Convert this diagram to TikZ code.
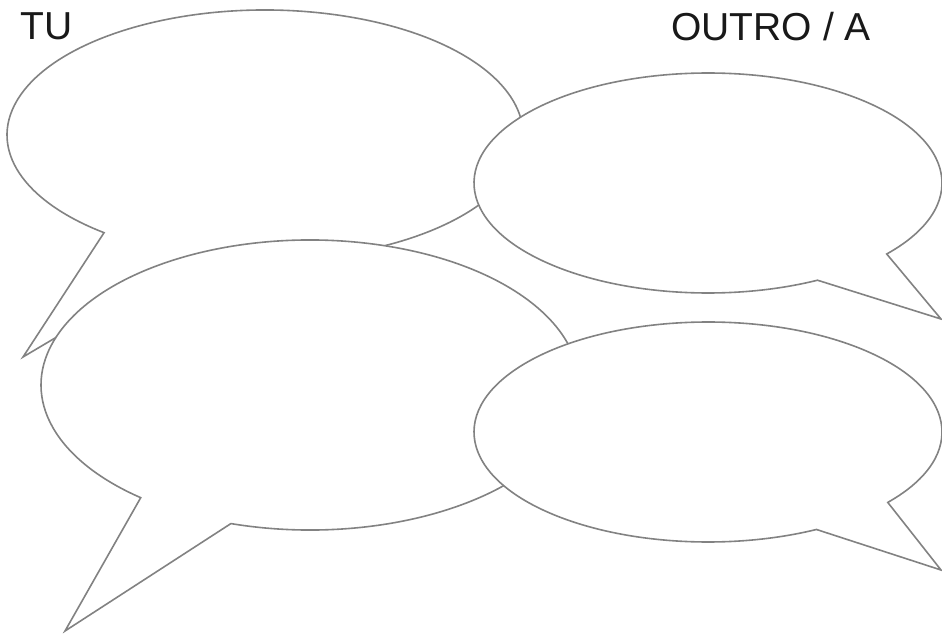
\documentclass[tikz,border=0pt]{standalone}
\usepackage{fontspec}
\setmainfont{Liberation Sans}
\begin{document}
\begin{tikzpicture}[x=1pt,y=1pt,
  bubble/.style={draw=bubblegray, fill=white, line width=1.6pt, line join=miter},
  label/.style={inner sep=0pt, text=labelgray, font=\fontsize{39}{42}\selectfont}]
\definecolor{bubblegray}{RGB}{130,130,130}
\definecolor{labelgray}{RGB}{25,25,25}
\useasboundingbox (0,0) rectangle (942,633);
% centres and tips
\coordinate (cA) at (265,498);
\coordinate (tA) at (23,276);
\coordinate (cB) at (708,450);
\coordinate (tB) at (941,314);
\coordinate (cC) at (310,248);
\coordinate (tC) at (65,2);
\coordinate (cD) at (708,201);
\coordinate (tD) at (941,63);
% bubble A (top left)
\draw[bubble] (cA) ++(254.2:258 and 125)
  arc[start angle=254.2, end angle=591.4, x radius=258, y radius=125] -- (tA) -- cycle;
% bubble B (top right)
\draw[bubble] (cB) ++(319.8:234 and 110)
  arc[start angle=319.8, end angle=657.9, x radius=234, y radius=110] -- (tB) -- cycle;
% bubble C (bottom left)
\draw[bubble] (cC) ++(252.9:269 and 145)
  arc[start angle=252.9, end angle=591.0, x radius=269, y radius=145] -- (tC) -- cycle;
% bubble D (bottom right)
\draw[bubble] (cD) ++(320.2:234 and 110)
  arc[start angle=320.2, end angle=657.6, x radius=234, y radius=110] -- (tD) -- cycle;
% labels
\node[label, anchor=base west] (tu) at (20,593) {TU};
\node[label, anchor=base east] (outro) at (871,592) {OUTRO / A};
\end{tikzpicture}
\end{document}
